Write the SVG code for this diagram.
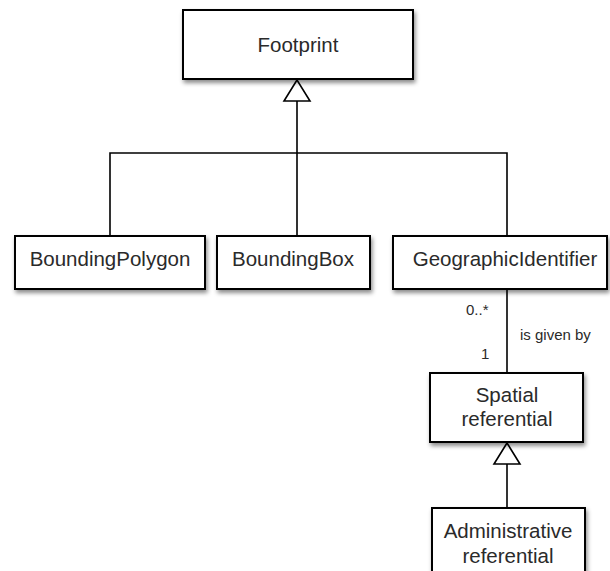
<svg xmlns="http://www.w3.org/2000/svg" width="610" height="571" viewBox="0 0 610 571">
<defs>
<filter id="sh" x="-10%" y="-10%" width="130%" height="140%">
<feDropShadow dx="1.5" dy="3" stdDeviation="2" flood-color="#000" flood-opacity="0.45"/>
</filter>
<style>
.box{fill:#fff;stroke:#000;stroke-width:2;filter:url(#sh)}
.lbl{font-family:"Liberation Sans",Arial,sans-serif;font-size:20.5px;fill:#2a2a2a;text-anchor:middle}
.sm{font-family:"Liberation Sans",Arial,sans-serif;font-size:15px;fill:#2a2a2a}
.ln{fill:none;stroke:#000;stroke-width:1.6}
.tri{fill:#fff;stroke:#000;stroke-width:1.6}
</style>
</defs>
<rect width="610" height="571" fill="#fff"/>
<g id="connectors">
<path class="ln" d="M297 101 V236 M110 236 V153 H507 V236"/>
<polygon class="tri" points="297,80 284,101 310,101"/>
<path class="ln" d="M507 289 V373"/>
<path class="ln" d="M507 464 V508"/>
<polygon class="tri" points="507,443 494,464 520,464"/>
<text class="sm" x="466" y="315">0..*</text>
<text class="sm" x="481" y="359">1</text>
<text class="sm" x="520" y="340">is given by</text>
</g>
<g id="footprint">
<rect class="box" x="183" y="10" width="230" height="69"/>
<text class="lbl" x="298" y="52">Footprint</text>
</g>
<g id="boundingpolygon">
<rect class="box" x="15" y="236" width="190" height="53"/>
<text class="lbl" x="110" y="266">BoundingPolygon</text>
</g>
<g id="boundingbox">
<rect class="box" x="217" y="236" width="153" height="53"/>
<text class="lbl" x="293" y="266">BoundingBox</text>
</g>
<g id="geographicidentifier">
<rect class="box" x="393" y="236" width="214" height="53"/>
<text class="lbl" x="505" y="266">GeographicIdentifier</text>
</g>
<g id="spatialreferential">
<rect class="box" x="430" y="373" width="153" height="69"/>
<text class="lbl" x="507" y="402">Spatial</text>
<text class="lbl" x="507" y="426">referential</text>
</g>
<g id="administrativereferential">
<rect class="box" x="432" y="508" width="153" height="80"/>
<text class="lbl" x="508" y="538">Administrative</text>
<text class="lbl" x="508" y="563">referential</text>
</g>
</svg>
